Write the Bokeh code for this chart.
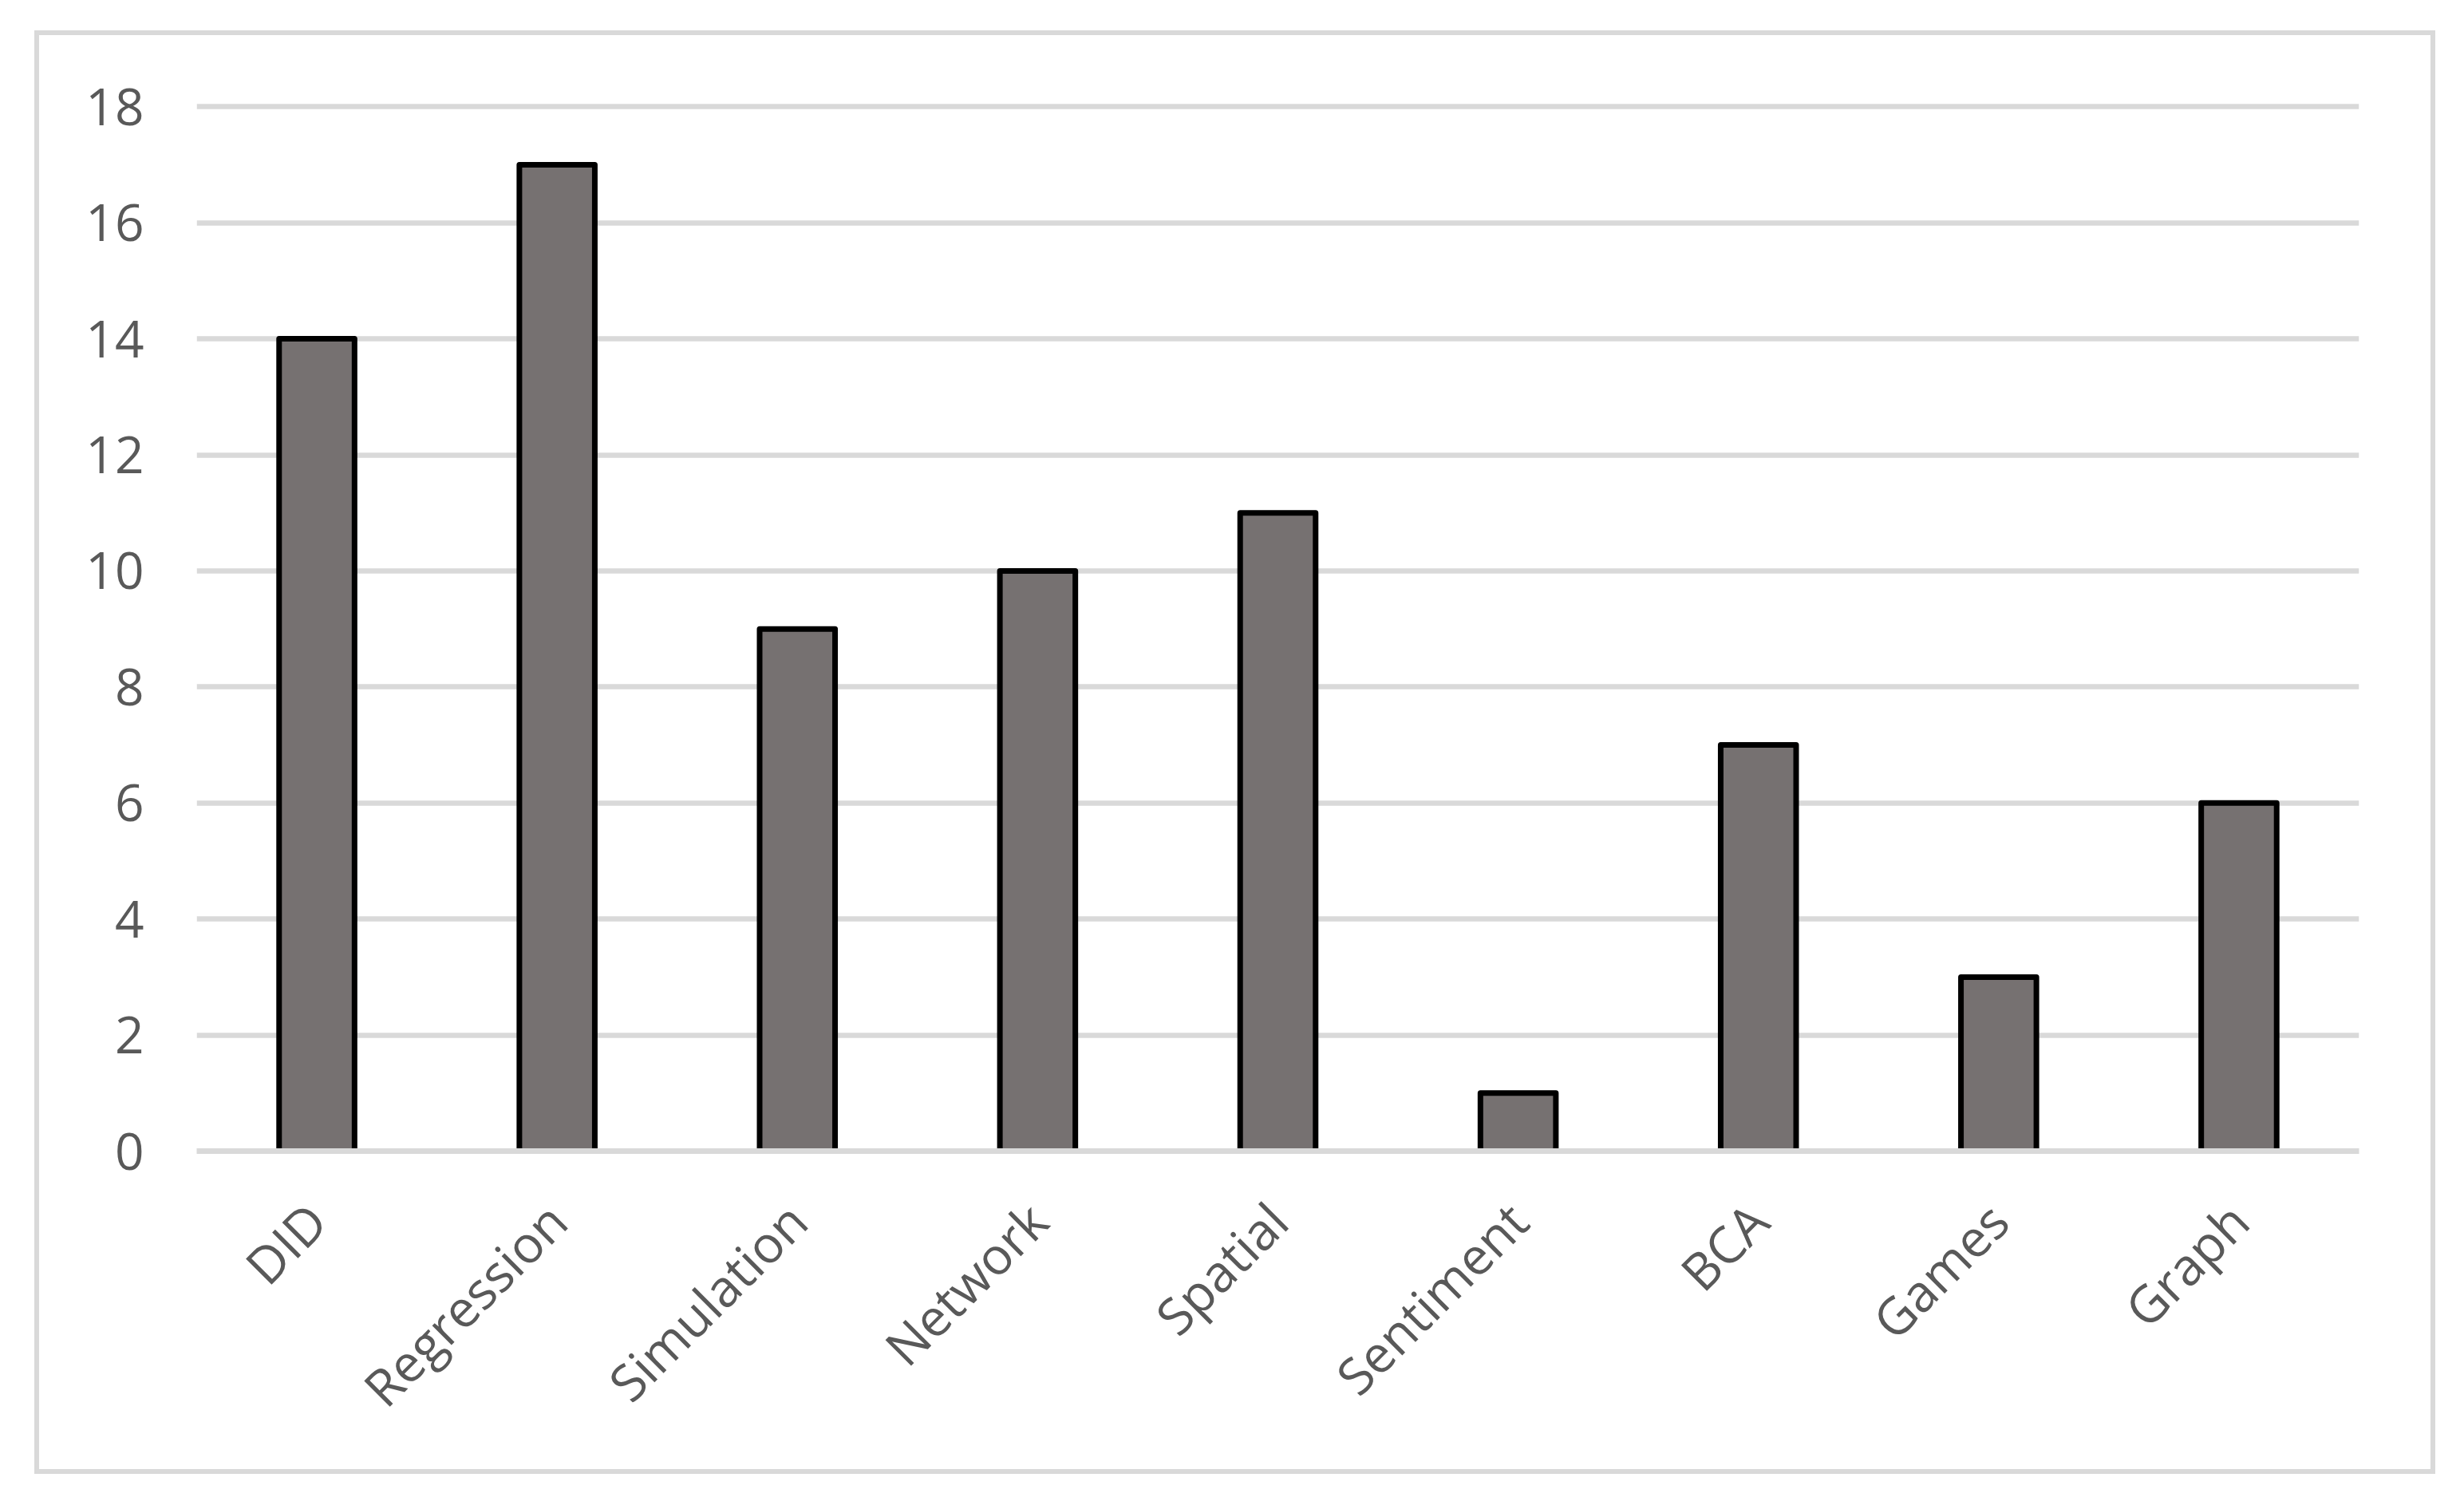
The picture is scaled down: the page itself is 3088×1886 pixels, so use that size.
import math
from bokeh.plotting import figure
from bokeh.models import FactorRange, Range1d, SingleIntervalTicker, ColumnDataSource, InlineStyleSheet
from bokeh.embed import file_html
from bokeh.resources import INLINE

# ---- data ----
categories = ["DID", "Regression", "Simulation", "Network", "Spatial",
              "Sentiment", "BCA", "Games", "Graph"]
counts = [14, 17, 9, 10, 11, 1, 7, 3, 6]
y_ticks_interval = 2
y_max = 18

W, H = 3080, 1880
src = ColumnDataSource(dict(cat=categories, val=counts))

grey_txt = "#595959"
grid_col = "#d9d9d9"

# outer chart-area border (drawn on top of the canvas via CSS)
border_css = InlineStyleSheet(css="""
:host::after {
  content: "";
  position: absolute;
  left: 43.25px;
  top: 38.25px;
  width: 3008.5px;
  height: 1808.5px;
  border: 6.5px solid #d9d9d9;
  box-sizing: border-box;
  pointer-events: none;
  z-index: 10;
}
""")

p = figure(width=W, height=H, output_backend="svg", toolbar_location=None,
           x_range=FactorRange(*categories, range_padding=0),
           y_range=Range1d(0, y_max + 0.1),
           min_border_left=246, min_border_right=124,
           min_border_top=126, min_border_bottom=438,
           stylesheets=[border_css])
p.title = None
p.background_fill_color = "white"
p.border_fill_color = "white"
p.outline_line_color = None

p.vbar(x="cat", top="val", width=0.314, source=src,
       fill_color="#767171", line_color="black", line_width=7, line_join="round")

# y axis
p.yaxis.ticker = SingleIntervalTicker(interval=y_ticks_interval)
p.yaxis.axis_line_color = None
p.yaxis.major_tick_line_color = None
p.yaxis.minor_tick_line_color = None
p.yaxis.major_tick_out = 0
p.yaxis.major_tick_in = 0
p.yaxis.major_label_standoff = 62
p.yaxis.major_label_text_font = "Open Sans"
p.yaxis.major_label_text_font_size = "64px"
p.yaxis.major_label_text_color = grey_txt

# x axis
p.xaxis.axis_line_color = grid_col
p.xaxis.axis_line_width = 7
p.xaxis.major_tick_line_color = None
p.xaxis.minor_tick_line_color = None
p.xaxis.major_tick_out = 0
p.xaxis.major_tick_in = 0
p.xaxis.major_label_orientation = math.pi / 4
p.xaxis.major_label_standoff = 76
p.xaxis.major_label_text_font = "Open Sans"
p.xaxis.major_label_text_font_size = "64px"
p.xaxis.major_label_text_color = grey_txt

p.xgrid.grid_line_color = None
p.ygrid.grid_line_color = grid_col
p.ygrid.grid_line_width = 6.5
p.ygrid.ticker = SingleIntervalTicker(interval=y_ticks_interval)

open("out.html", "w").write(file_html(p, INLINE))
